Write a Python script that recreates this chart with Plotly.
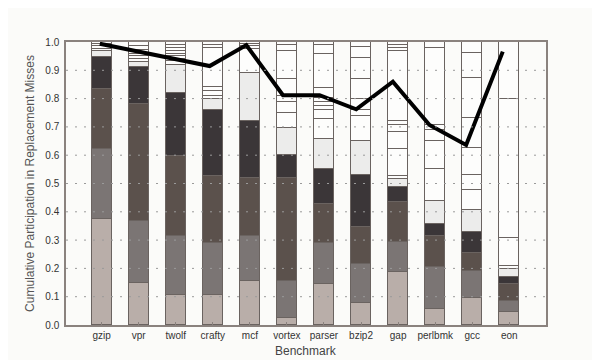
import plotly.graph_objects as go

categories = ["gzip", "vpr", "twolf", "crafty", "mcf", "vortex", "parser",
              "bzip2", "gap", "perlbmk", "gcc", "eon"]

# segment heights, bottom to top
seg1 = [0.376, 0.147, 0.106, 0.106, 0.155, 0.026, 0.144, 0.079, 0.187, 0.055, 0.097, 0.047]
seg2 = [0.245, 0.220, 0.210, 0.183, 0.161, 0.129, 0.145, 0.138, 0.107, 0.150, 0.094, 0.038]
seg3 = [0.214, 0.413, 0.281, 0.236, 0.202, 0.363, 0.137, 0.130, 0.142, 0.108, 0.065, 0.061]
seg4 = [0.113, 0.130, 0.224, 0.235, 0.203, 0.082, 0.124, 0.183, 0.052, 0.045, 0.074, 0.024]
seg5 = [0.019, 0.020, 0.097, 0.040, 0.170, 0.096, 0.107, 0.119, 0.027, 0.080, 0.075, 0.027]

# remaining (white) segments per benchmark, bottom to top
white_gzip = [0.009, 0.009, 0.008, 0.007]
white_vpr = [0.010, 0.009, 0.010, 0.014, 0.012, 0.015]
white_twolf = [0.014, 0.008, 0.009, 0.010, 0.008, 0.012, 0.012, 0.009]
white_crafty = [0.010, 0.017, 0.013, 0.140, 0.008, 0.012]
white_mcf = [0.084, 0.010, 0.008, 0.007]
white_vortex = [0.053, 0.038, 0.021, 0.062, 0.097, 0.024, 0.009]
white_parser = [0.071, 0.033, 0.012, 0.014, 0.015, 0.036, 0.121, 0.032, 0.009]
white_bzip2 = [0.091, 0.021, 0.038, 0.071, 0.074, 0.038, 0.018]
white_gap = [0.012, 0.094, 0.061, 0.025, 0.014, 0.247, 0.012, 0.009, 0.011]
white_perlbmk = [0.112, 0.100, 0.038, 0.019, 0.273, 0.020]
white_gcc = [0.071, 0.054, 0.097, 0.103, 0.144, 0.088, 0.038]
white_eon = [0.010, 0.100, 0.492, 0.201]

whites = [white_gzip, white_vpr, white_twolf, white_crafty, white_mcf, white_vortex,
          white_parser, white_bzip2, white_gap, white_perlbmk, white_gcc, white_eon]

# black line values
line_vals = [0.994, 0.968, 0.942, 0.915, 0.989, 0.812, 0.812, 0.762, 0.860, 0.707, 0.636, 0.966]

y_ticks = [0.0, 0.1, 0.2, 0.3, 0.4, 0.5, 0.6, 0.7, 0.8, 0.9, 1.0]

seg_colors = ["#b9aea9", "#7b7574", "#5b514c", "#3b3638", "#ececeb"]
white_color = "#fdfdfc"
edge = "#6a6360"

xpos = list(range(len(categories)))
fig = go.Figure()

for vals, col in zip([seg1, seg2, seg3, seg4, seg5], seg_colors):
    fig.add_trace(go.Bar(x=xpos, y=vals, width=0.54, marker_color=col,
                         marker_line_color=edge, marker_line_width=1,
                         showlegend=False, hoverinfo="skip"))

max_w = max(len(w) for w in whites)
for k in range(max_w):
    vals = [w[k] if k < len(w) else None for w in whites]
    fig.add_trace(go.Bar(x=xpos, y=vals, width=0.54, marker_color=white_color,
                         marker_line_color=edge, marker_line_width=1,
                         showlegend=False, hoverinfo="skip"))

fig.add_trace(go.Scatter(x=xpos, y=line_vals, mode="lines", xaxis="x2",
                         line=dict(color="black", width=4),
                         showlegend=False, hoverinfo="skip"))

# dotted grid drawn above bars
for t in y_ticks[1:-1]:
    fig.add_shape(type="line", xref="paper", yref="y", x0=0, x1=1, y0=t, y1=t,
                  line=dict(color="#9a9a9a", width=1, dash="2px,7px"), layer="above")

fig.add_annotation(text="Benchmark", xref="paper", yref="paper", x=0.5, y=-0.092,
                   xanchor="center", yanchor="middle", showarrow=False,
                   font=dict(size=12, color="#444444"))

font = "Liberation Sans, Arial, sans-serif"
fig.update_layout(
    width=592, height=352,
    barmode="stack", bargap=0,
    paper_bgcolor="#fbfbf9", plot_bgcolor="#fbfbf9",
    margin=dict(l=58, r=54, t=34, b=35),
    font=dict(family=font, color="#333333", size=10),
    xaxis=dict(range=[-0.96, 11.99], tickmode="array", tickvals=xpos,
               ticktext=categories, showgrid=False, zeroline=False,
               showline=True, mirror=True, linecolor="#8a827e", linewidth=1.5,
               ticks="inside", ticklen=3, tickcolor="#8a827e",
               tickfont=dict(size=10, color="#333333")),
    xaxis2=dict(range=[-0.922, 12.18], overlaying="x", visible=False),
    yaxis=dict(range=[0, 1.0], tickmode="array", tickvals=y_ticks,
               ticktext=[f"{t:.1f}" for t in y_ticks], showgrid=False, zeroline=False,
               showline=True, mirror=True, linecolor="#8a827e", linewidth=1.5,
               ticks="", ticklabelstandoff=3, tickfont=dict(size=10, color="#333333"),
               title=dict(text="Cumulative Participation in Replacement Misses",
                          font=dict(size=12, color="#555555"), standoff=8)),
)

fig.write_html("out.html")
